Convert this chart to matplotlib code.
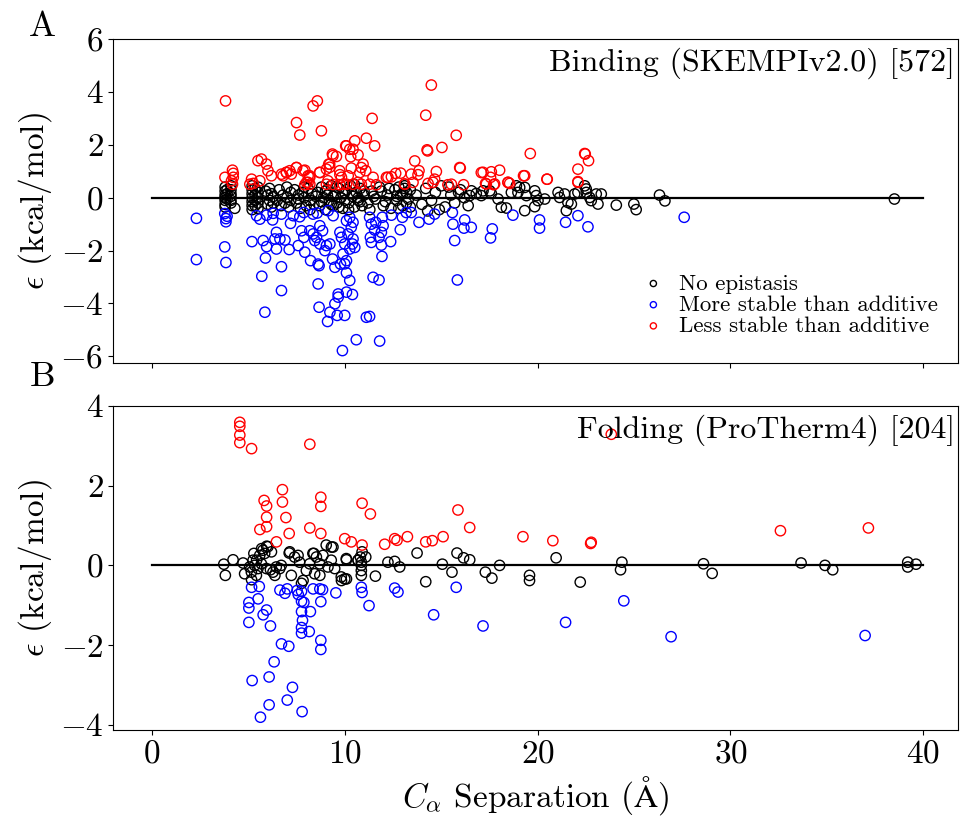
import matplotlib
matplotlib.use('Agg')
import matplotlib.pyplot as plt

plt.rcParams['font.family'] = ['cmr10', 'DejaVu Serif']
plt.rcParams['mathtext.fontset'] = 'cm'
plt.rcParams['axes.formatter.use_mathtext'] = True

# ---- Panel A : Binding (SKEMPIv2.0) ----
bind_none_x = [
    3.8, 3.8, 3.8, 3.8, 3.8, 3.8, 3.8, 3.9, 3.9, 3.9, 4.1, 4.1, 4.1, 4.1, 4.1, 4.1, 4.3,
    5.2, 5.2, 5.2, 5.2, 5.2, 5.2, 5.2, 5.35, 5.35, 5.35, 5.35, 5.5, 5.5, 5.5, 5.5, 5.5,
    5.9, 6.0, 6.0, 6.1, 6.1, 6.2, 6.2, 6.3, 6.3,
    6.5, 6.6, 6.7, 6.8, 6.9, 7.0, 7.0, 7.1, 7.2, 7.2,
    7.4, 7.5, 7.6, 7.7, 7.8, 7.9, 8.0, 8.1, 8.2, 8.3, 8.4, 8.5, 7.6, 7.9, 8.2,
    8.6, 8.7, 8.8, 8.9, 9.0, 9.1, 9.2, 9.3, 9.4, 9.5, 9.6, 9.7, 9.8, 9.9, 10.0,
    8.8, 9.1, 9.4, 9.7, 10.0, 9.0, 9.3, 9.6, 9.9,
    10.1, 10.2, 10.3, 10.4, 10.5, 10.6, 10.7, 10.8, 10.9, 11.0, 10.2, 10.5, 10.8, 11.0, 10.4, 10.7,
    11.2, 11.4, 11.6, 11.8, 12.0, 12.2, 12.4, 11.5, 11.9, 12.3, 11.3, 12.1,
    12.6, 12.7, 12.8, 12.9, 13.0, 13.1, 13.2, 13.3, 13.4, 12.8, 13.0, 13.2, 12.7, 13.1, 13.4,
    13.7, 14.0, 14.2, 14.5, 14.7, 15.0, 15.2, 15.5, 15.7, 16.0, 16.2, 16.4, 14.3, 14.9, 15.4, 15.9,
    16.57, 16.48, 16.82, 17.08, 17.17, 17.52, 17.6, 17.95, 18.12, 18.38,
    18.64, 18.9, 19.07, 18.98, 19.33, 19.42, 19.33, 19.85, 19.93, 19.85,
    20.02, 20.37, 21.06, 21.14, 21.4, 21.57, 21.49, 21.75, 21.92, 22.09,
    22.44, 22.52, 22.52, 22.7, 22.78, 23.04, 23.13, 23.3, 24.08,
    24.99, 25.11, 26.32, 26.6, 38.5]
bind_none_y = [
    0.4, 0.25, 0.1, 0.0, -0.1, -0.25, -0.35, 0.3, 0.15, -0.05, 0.45, 0.3, 0.15, 0.05, -0.1, -0.2, -0.4,
    0.45, 0.3, 0.15, 0.0, -0.15, -0.3, -0.45, 0.35, 0.1, -0.1, -0.3, 0.4, 0.2, 0.0, -0.2, -0.4,
    0.25, 0.1, -0.25, 0.35, -0.1, 0.15, -0.35, 0.05, -0.2,
    -0.1, 0.3, -0.3, 0.1, -0.2, 0.4, 0.0, -0.35, 0.2, -0.1,
    0.3, -0.2, 0.1, -0.4, 0.2, 0.0, -0.3, 0.35, -0.1, 0.15, -0.25, 0.05, -0.05, 0.4, -0.45,
    0.2, -0.3, 0.4, 0.0, -0.45, 0.3, -0.1, 0.45, -0.3, 0.1, -0.2, 0.35, 0.0, -0.4, 0.2,
    -0.15, 0.1, 0.05, -0.35, -0.1, 0.25, -0.25, 0.4, 0.15,
    0.3, -0.2, 0.45, 0.05, -0.35, 0.2, -0.1, 0.35, -0.3, 0.1, -0.45, 0.5, -0.15, 0.25, 0.15, 0.0,
    -0.2, 0.25, -0.05, 0.4, -0.3, 0.1, -0.4, 0.05, 0.25, 0.35, -0.45, -0.15,
    0.3, -0.1, 0.4, 0.1, -0.3, 0.45, 0.2, -0.05, 0.3, -0.4, 0.15, -0.2, 0.05, 0.35, -0.35,
    0.1, -0.25, 0.35, -0.1, 0.2, 0.45, -0.35, 0.1, -0.2, 0.3, 0.0, -0.3, -0.5, -0.45, 0.4, 0.2,
    0.26, 0.08, 0.16, 0.08, 0.26, 0.26, 0.16, -0.05, -0.36, -0.39,
    0.2, 0.45, 0.39, 0.2, 0.39, 0.08, -0.49, 0.26, 0.08, -0.34,
    -0.11, -0.05, 0.2, 0.01, 0.14, -0.18, -0.49, -0.24, 0.14, 0.2,
    0.45, 0.33, 0.2, 0.01, -0.11, 0.14, -0.24, 0.14, -0.28,
    -0.24, -0.45, 0.10, -0.12, -0.05]

bind_more_x = [
    2.31, 2.31, 3.78, 3.84, 3.84, 3.9, 3.78, 3.84,
    5.43, 5.6, 5.95, 6.29, 6.26, 6.72, 7.19, 7.33, 7.67, 7.88, 8.36, 8.57, 8.71, 9.14, 9.4,
    5.19, 5.77, 5.95, 6.46, 6.38, 6.64, 6.9, 6.46, 7.12, 7.59, 7.93, 7.76, 7.88, 8.19, 8.36,
    8.54, 8.45, 8.71, 8.85, 9.05, 9.23, 8.97, 9.75,
    5.89, 5.7, 6.72, 6.72, 8.23, 8.62, 8.67, 9.37, 9.49, 9.78, 8.62, 5.86, 8.67, 9.23, 9.49,
    9.66, 9.66, 9.61, 10.0, 10.09, 9.11, 9.88,
    10.6, 11.81, 11.12, 11.29, 10.4, 11.47, 11.78, 15.84, 10.26, 10.0, 10.09, 11.93, 11.9, 12.38,
    10.09, 10.26, 10.43, 10.34, 10.17, 10.43, 10.0, 10.26, 9.91, 10.52, 10.09, 10.4, 9.83,
    11.29, 11.38, 11.61, 11.95, 11.99, 11.33, 11.38, 11.78, 11.9, 11.55,
    12.42, 12.88, 12.99, 13.19, 13.45, 13.85, 14.37, 14.66, 15.58, 15.61, 15.7, 16.22,
    16.18, 16.56, 17.65, 17.56, 18.72, 20.1, 20.1, 21.45, 22.09, 22.61, 27.6]
bind_more_y = [
    -0.78, -2.34, -0.6, -0.79, -0.91, -0.7, -1.86, -2.45,
    -0.68, -0.81, -0.66, -0.59, -0.84, -0.62, -0.97, -0.68, -0.72, -0.56, -0.62, -0.58, -1.06, -0.49, -0.68,
    -1.66, -1.62, -1.85, -1.31, -1.56, -1.56, -1.6, -1.94, -1.96, -1.81, -2.06, -1.25, -1.5, -1.25, -1.37,
    -1.5, -1.62, -1.75, -1.25, -1.81, -1.75, -2.0, -1.31,
    -2.28, -2.97, -2.61, -3.51, -2.38, -2.51, -2.57, -2.32, -2.63, -2.51, -3.26, -4.33, -4.14, -4.33, -4.01,
    -3.76, -3.64, -4.45, -4.45, -3.57, -4.68, -5.78,
    -5.37, -5.42, -4.52, -4.49, -3.66, -3.01, -3.11, -3.11, -3.13, -2.5, -2.84, -2.22, -1.79, -1.66,
    -0.87, -0.74, -0.93, -1.12, -1.37, -1.56, -1.75, -1.94, -2.13, -1.88, -2.38, -1.75, -1.5,
    -0.74, -1.0, -0.93, -0.74, -1.06, -1.5, -1.69, -1.5, -1.31, -1.22,
    -0.66, -1.21, -0.74, -0.56, -0.56, -0.93, -0.81, -0.62, -0.56, -1.0, -1.62, -0.84,
    -1.15, -1.12, -1.18, -1.52, -0.66, -0.84, -1.15, -0.93, -0.68, -1.1, -0.74]

bind_less_x = [
    3.82, 8.36, 8.58, 7.5, 7.67, 8.79, 10.05, 9.36, 9.57, 9.17, 9.22,
    14.49, 11.42, 14.2, 15.78, 11.12, 11.55, 10.52, 10.09, 10.26, 10.43, 10.31, 10.69, 14.27, 15.04,
    13.63, 15.99, 17.08, 17.6, 18.03, 17.56, 19.27, 20.48,
    3.79, 4.18, 4.22, 4.22, 4.13, 4.18, 5.17, 5.26, 5.08, 5.6, 6.72, 6.98, 7.15, 7.5, 7.93, 8.19,
    8.1, 8.71, 8.02, 8.19, 7.93, 9.05, 9.4, 9.75, 9.83, 9.92, 10.18,
    5.5, 5.68, 5.94, 6.02, 6.2, 6.8, 6.97, 7.23, 7.49, 7.84, 8.18, 8.1, 8.7, 9.05, 9.22, 9.39, 9.13,
    9.74, 10.09, 10.43, 10.69, 10.86, 11.29, 11.64, 13.11, 13.54, 14.32, 14.58, 15.35, 15.53,
    16.16, 17.3, 17.72, 18.46, 18.55, 22.09,
    11.47, 12.24, 12.42, 12.64, 12.9, 13.45, 13.85, 13.8, 14.75, 14.66, 10.95, 10.86, 10.34, 11.09, 10.78, 9.74,
    15.96, 14.3, 13.1, 12.16, 17.17, 17.34, 17.77, 18.47, 19.33, 19.62, 20.5, 22.09, 22.47, 22.64, 22.44, 22.09]
bind_less_y = [
    3.66, 3.47, 3.66, 2.84, 2.37, 2.53, 1.96, 1.65, 1.56, 1.27, 1.15,
    4.26, 3.0, 3.12, 2.36, 2.25, 1.96, 2.15, 1.96, 1.83, 1.83, 1.55, 1.62, 1.81, 1.9,
    1.39, 1.12, 0.95, 0.98, 1.04, 0.77, 0.83, 0.7,
    0.77, 1.04, 0.92, 0.77, 0.64, 0.51, 0.7, 0.54, 0.51, 0.64, 0.89, 0.95, 1.02, 1.14, 1.04, 0.77,
    0.83, 0.95, 0.58, 0.51, 0.49, 0.51, 0.5, 0.87, 0.77, 0.51, 0.83,
    1.4, 1.46, 1.27, 1.02, 0.83, 0.83, 0.96, 0.89, 1.14, 1.02, 0.83, 0.58, 0.96, 1.08, 1.27, 1.59, 0.64,
    0.49, 0.51, 0.51, 0.58, 0.51, 0.51, 0.49, 0.51, 0.58, 0.54, 0.58, 0.49, 0.51,
    0.49, 0.54, 0.49, 0.58, 0.54, 0.61,
    0.77, 0.77, 0.79, 0.92, 0.93, 0.89, 1.02, 0.87, 0.99, 0.7, 1.27, 1.14, 1.12, 1.02, 0.95, 1.02,
    1.14, 1.77, 0.52, 0.77, 0.96, 0.52, 0.52, 0.58, 0.83, 1.67, 0.7, 1.08, 1.65, 1.4, 1.67, 0.58]

# ---- Panel B : Folding (ProTherm4) ----
fold_none_x = [
    3.73, 3.81, 4.21, 4.73, 4.81, 5.07, 5.25, 5.16, 5.33, 5.42, 5.5, 5.59, 5.68, 5.76, 5.85,
    6.02, 5.94, 6.2, 6.28, 6.45, 6.63, 6.71, 7.15, 7.23, 7.4, 7.58, 7.66, 7.84, 8.01, 8.18,
    8.35, 8.44, 8.53, 8.7, 8.87, 9.04, 9.13, 9.3, 9.39, 9.48, 9.82, 10.0, 10.08, 10.69,
    5.29, 5.69, 5.95, 6.38, 7.76, 9.31, 6.15, 7.12, 8.4, 8.71, 5.17, 5.43,
    10.09, 10.09, 9.83, 10.69, 10.9, 10.81, 10.86, 10.86, 10.86, 10.86, 11.09, 11.59, 12.24, 12.59,
    12.85, 13.75, 14.2, 15.06, 15.56, 15.82, 16.16, 16.48, 17.29, 17.63, 18.03, 19.58, 19.58,
    20.96, 22.21, 24.37, 24.3, 28.6, 29.05, 33.66, 34.9, 35.3, 39.19, 39.19, 39.62]
fold_none_y = [
    0.03, -0.25, 0.14, 0.06, -0.21, -0.04, 0.13, -0.17, 0.0, -0.25, -0.08, 0.25, 0.04, 0.38, 0.3,
    0.47, -0.08, 0.34, -0.17, -0.04, -0.08, 0.0, 0.34, -0.25, 0.21, 0.25, 0.08, -0.38, -0.13, 0.04,
    0.3, -0.21, 0.21, 0.04, 0.25, 0.51, -0.04, 0.13, 0.46, -0.08, -0.29, -0.34, 0.17, 0.13,
    0.3, 0.42, 0.48, -0.25, -0.45, 0.46, -0.11, 0.31, 0.3, -0.25, -0.36, 0.13,
    0.14, -0.34, -0.38, 0.13, 0.34, 0.21, 0.08, 0.0, -0.13, -0.25, 0.21, -0.27, 0.08, 0.1,
    -0.04, 0.31, -0.41, 0.03, -0.17, 0.31, 0.19, 0.14, -0.17, -0.32, 0.0, -0.25, -0.38,
    0.19, -0.42, 0.08, -0.11, 0.04, -0.2, 0.06, 0.0, -0.11, 0.08, -0.04, 0.03]

fold_more_x = [
    5.17, 5.57, 5.03, 5.03, 5.51, 5.03, 5.95, 5.77, 6.15, 6.64, 6.9, 7.02, 7.53, 7.59, 7.76,
    7.76, 7.88, 7.76, 7.81, 7.76, 7.76, 8.16, 8.22, 8.36, 8.71, 8.85, 8.76, 9.54, 8.76, 8.76,
    6.72, 7.1, 6.34, 5.2, 6.08, 7.29, 7.02, 6.08, 7.79, 5.63,
    10.86, 10.9, 11.26, 12.59, 12.76, 14.61, 15.78, 17.17, 21.45, 24.47, 26.92, 36.98]
fold_more_y = [
    -0.55, -0.53, -0.93, -1.07, -0.84, -1.43, -1.12, -1.24, -1.52, -0.62, -0.7, -0.59, -0.63, -0.73, -0.65,
    -0.9, -0.93, -1.16, -1.38, -1.56, -1.7, -1.66, -1.16, -0.59, -0.59, -0.61, -0.91, -0.69, -1.88, -2.11,
    -1.97, -2.03, -2.42, -2.89, -2.8, -3.06, -3.38, -3.5, -3.67, -3.81,
    -0.55, -0.68, -1.01, -0.57, -0.67, -1.24, -0.55, -1.52, -1.43, -0.89, -1.79, -1.76]

fold_less_x = [
    4.56, 4.56, 4.56, 4.56, 5.17, 8.19, 6.77, 6.77, 5.82, 5.95, 5.95, 5.95, 5.6, 6.95, 7.12,
    6.46, 8.19, 8.76, 8.76, 8.76, 10.0,
    23.82, 10.9, 11.33, 15.87, 16.48, 10.34, 10.9, 12.07, 12.59, 12.71, 13.25, 14.2, 14.54, 15.1,
    19.24, 20.79, 22.75, 22.78, 32.59, 37.15]
fold_less_y = [
    3.59, 3.49, 3.27, 3.08, 2.93, 3.04, 1.9, 1.59, 1.63, 1.49, 1.21, 0.97, 0.9, 1.2, 0.8,
    0.59, 0.94, 1.71, 1.48, 0.8, 0.67,
    3.29, 1.56, 1.29, 1.39, 0.95, 0.59, 0.51, 0.53, 0.67, 0.63, 0.72, 0.59, 0.62, 0.72,
    0.72, 0.62, 0.55, 0.58, 0.87, 0.94]

labels = ['No epistasis', 'More stable than additive', 'Less stable than additive']
colors = ['black', 'blue', 'red']

TAILLE = 24


def panneau(ax, series, titre, yticks, ylim):
    """Un panneau : nuage de cercles vides + ligne a zero."""
    handles = []
    for (xs, ys), col, lab in zip(series, colors, labels):
        h = ax.scatter(xs, ys, s=55, facecolors='none', edgecolors=col,
                       linewidths=1.0, label=lab)
        handles.append(h)
    ax.plot([0, 40], [0, 0], color='black', lw=1.6)
    ax.text(0.996, 0.975, titre, transform=ax.transAxes, ha='right', va='top',
            fontsize=23, zorder=5)
    ax.set_xlim(-2.0, 41.8)
    ax.set_ylim(*ylim)
    ax.set_xticks([0, 10, 20, 30, 40])
    ax.set_yticks(yticks)
    ax.tick_params(labelsize=TAILLE)
    ax.set_ylabel(r'$\epsilon$ (kcal/mol)', fontsize=TAILLE)
    return handles


fig = plt.figure(figsize=(9.6, 8.25), dpi=100)
axA = fig.add_axes([0.118, 0.56, 0.88, 0.3927])
axB = fig.add_axes([0.118, 0.1152, 0.88, 0.3927])

hA = panneau(axA,
             [(bind_none_x, bind_none_y), (bind_more_x, bind_more_y), (bind_less_x, bind_less_y)],
             'Binding (SKEMPIv2.0) [572]', [-6, -4, -2, 0, 2, 4, 6], (-6.25, 6.0))
panneau(axB,
        [(fold_none_x, fold_none_y), (fold_more_x, fold_more_y), (fold_less_x, fold_less_y)],
        'Folding (ProTherm4) [204]', [-4, -2, 0, 2, 4], (-4.13, 4.0))

axA.tick_params(labelbottom=False)
axB.set_xlabel(r'$C_\alpha$ Separation ($\mathrm{\AA}$)', fontsize=TAILLE)

axA.legend(handles=hA, loc='lower right', bbox_to_anchor=(1.0, 0.02),
           frameon=False, fontsize=16.5, markerscale=0.6, handlelength=1.0,
           handletextpad=0.6, labelspacing=0.05)

fig.text(0.044, 0.967, 'A', fontsize=26, ha='center', va='center')
fig.text(0.044, 0.543, 'B', fontsize=26, ha='center', va='center')

plt.savefig('out.png', dpi=100)
